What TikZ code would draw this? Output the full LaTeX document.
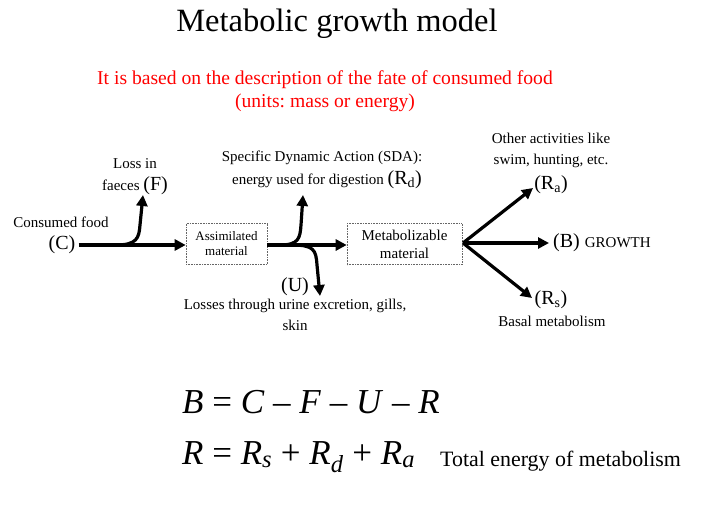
\documentclass[tikz,border=0pt]{standalone}
\usepackage{fontspec}
\setmainfont{Liberation Serif}
\usetikzlibrary{arrows.meta}
\frenchspacing
\begin{document}
\begin{tikzpicture}[x=1pt,y=-1pt,
  txt/.style={inner sep=0pt, font=\fontsize{15}{18}\selectfont},
  big/.style={inner sep=0pt, font=\fontsize{20}{24}\selectfont},
  boxn/.style={draw=black!60, densely dotted, line width=0.6pt, minimum height=41pt, align=center, inner sep=0pt},
  flow/.style={line width=3.2pt, -{Triangle[length=11pt,width=11pt]}},
  eq/.style={inner sep=0pt, anchor=base west, font=\fontsize{35}{40}\selectfont},
]
\useasboundingbox[fill=white] (0,0) rectangle (717,506);
% title
\node[inner sep=0pt, font=\fontsize{32.5}{36}\selectfont] (title) at (337,24) {Metabolic growth model};
\node[inner sep=0pt, text=red, font=\fontsize{19.6}{22}\selectfont] (sub1) at (325,80) {It is based on the description of the fate of consumed food};
\node[inner sep=0pt, text=red, font=\fontsize{19.6}{22}\selectfont] (sub2) at (325,103) {(units: mass or energy)};
% left
\node[txt] (cons) at (61,222) {Consumed food};
\node[big] (C) at (62,245) {(C)};
\node[boxn, minimum width=81pt, font=\fontsize{13}{15}\selectfont] (box1) at (226.5,244) {Assimilated\\material};
\node[boxn, minimum width=115pt, font=\fontsize{15}{18}\selectfont] (box2) at (404.5,244) {Metabolizable\\material};
\node[txt] (loss1) at (135,164) {Loss in};
\node[txt] (loss2) at (135,186) {faeces {\fontsize{20}{24}\selectfont(F)}};
\node[txt] (sda1) at (322,158) {Specific Dynamic Action (SDA):};
\node[txt] (sda2) at (327,180) {energy used for digestion {\fontsize{20}{24}\selectfont(R\textsubscript{d})}};
\node[big] (U) at (295,287) {(U)};
\node[txt] (uloss1) at (295,306) {Losses through urine excretion, gills,};
\node[txt] (uloss2) at (295,325) {skin};
\node[txt] (oth1) at (551,138) {Other activities like};
\node[txt] (oth2) at (551,161) {swim, hunting, etc.};
\node[big] (Ra) at (551,185) {(R\textsubscript{a})};
\node[big, anchor=west] (B) at (553,243) {(B) {\fontsize{15}{18}\selectfont GROWTH}};
\node[big] (Rs) at (551,300) {(R\textsubscript{s})};
\node[txt] (basal) at (552,321) {Basal metabolism};
% coordinates
\coordinate (f0) at (116,245);
\coordinate (fTip) at (143,195);
\coordinate (d0) at (280,245);
\coordinate (dTip) at (303,195);
\coordinate (u0) at (292,245);
\coordinate (uTip) at (320,296);
\coordinate (fan) at (463,243);
\coordinate (raTip) at (533,188);
\coordinate (bTip) at (549,243);
\coordinate (rsTip) at (532,298);
% arrows
\draw[flow] (C.east) ++(3,0) -- (box1.west |- C.east);
\draw[flow] (f0) .. controls (137,245) and (139,238) .. (140,225) -- (fTip);
\draw[flow] (box1.east |- C.east) -- (box2.west |- C.east);
\draw[flow] (d0) .. controls (299,245) and (300,238) .. (301,225) -- (dTip);
\draw[flow] (u0) .. controls (314,245) and (316,250) .. (317,265) -- (uTip);
\draw[flow] (fan) -- (raTip);
\draw[flow] (fan) -- (bTip);
\draw[flow] (fan) -- (rsTip);
% equations
\node[eq] (eq1) at (182,413) {\textit{B} = \textit{C} – \textit{F} – \textit{U} – \textit{R}};
\node[eq] (eq2) at (182,464) {\textit{R} = \textit{R}\textsubscript{\textit{s}} + \textit{R}\textsubscript{\textit{d}} + \textit{R}\textsubscript{\textit{a}}};
\node[inner sep=0pt, anchor=base west, font=\fontsize{21.9}{24}\selectfont] (tot) at (440,466) {Total energy of metabolism};
\end{tikzpicture}
\end{document}
